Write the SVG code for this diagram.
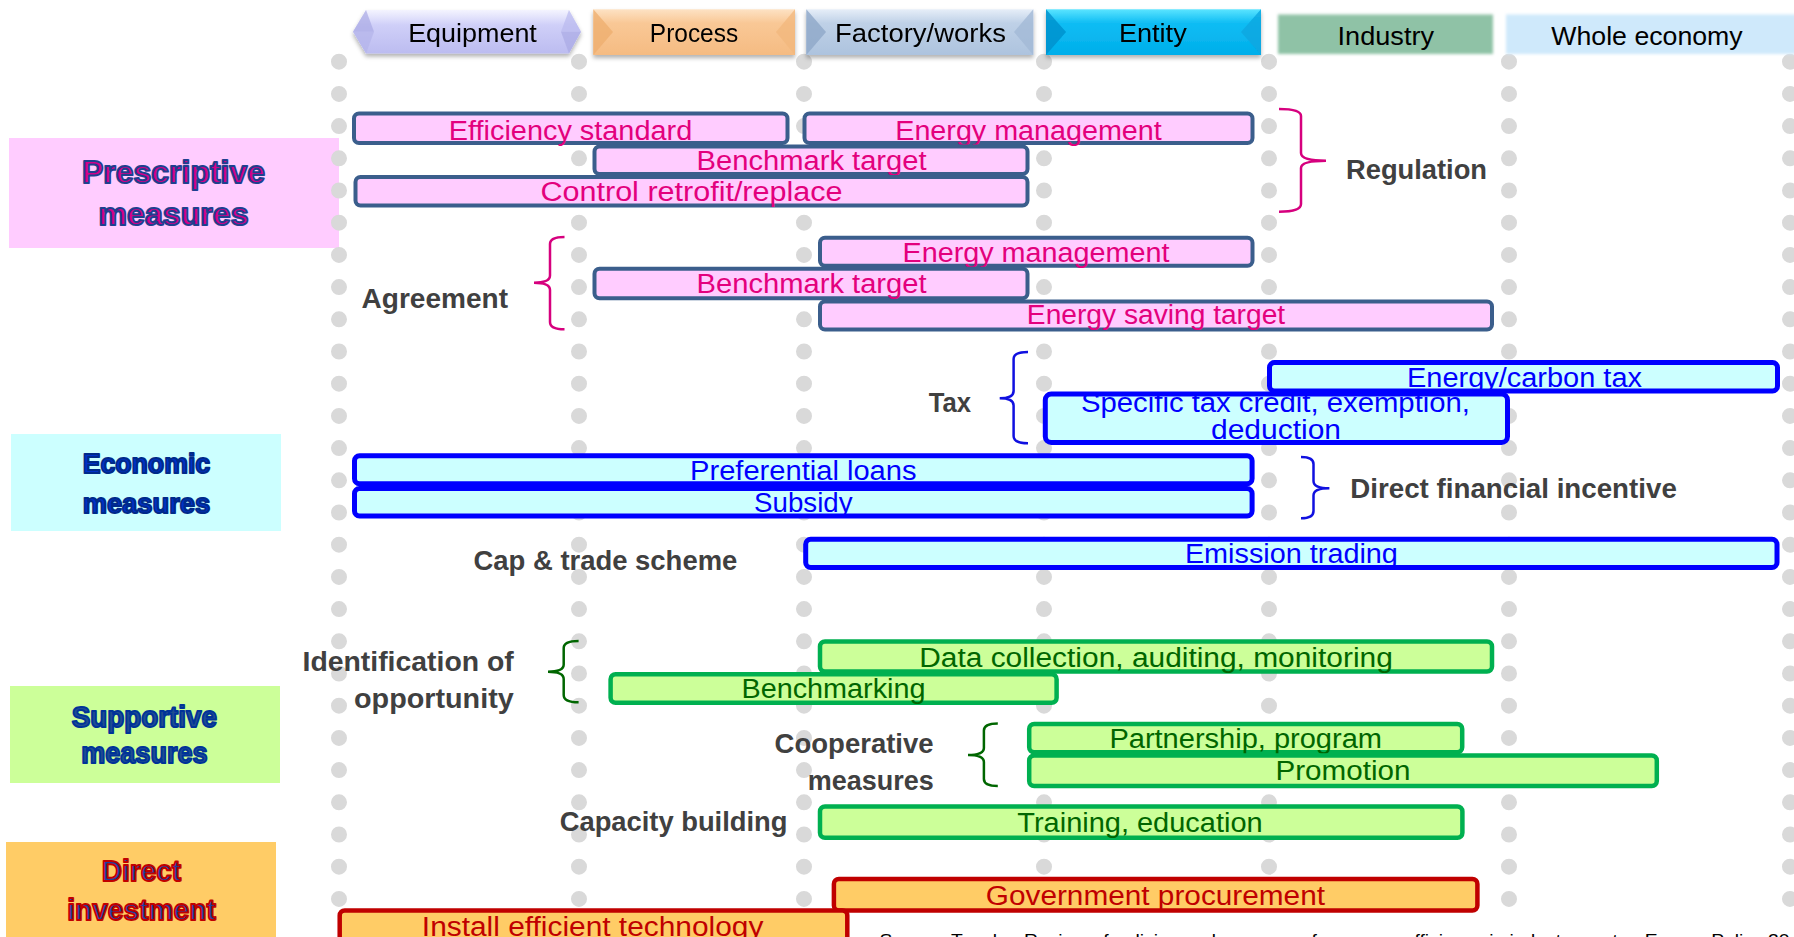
<svg xmlns="http://www.w3.org/2000/svg" width="1794" height="937" viewBox="0 0 1794 937">
<defs>
<style>
.bp{fill:#ffccff;stroke:#3b5e8c;stroke-width:4}
.be{fill:#ccffff;stroke:#0000ff;stroke-width:5}
.bs{fill:#ccff99;stroke:#00b050;stroke-width:4.5}
.bd{fill:#ffcc66;stroke:#c00000;stroke-width:4.5}
.t{font-family:"Liberation Sans",Arial,sans-serif;font-size:27px;text-anchor:middle}
.tp{fill:#e3007d}.te{fill:#0000ff}.ts{fill:#006600}.td{fill:#c00000}
.lbl{font-family:"Liberation Sans",Arial,sans-serif;font-weight:bold;font-size:27px;fill:#404040}
.hdr{font-family:"Liberation Sans",Arial,sans-serif;font-size:25px;fill:#000;text-anchor:middle}
.cat{font-family:"Liberation Sans",Arial,sans-serif;font-weight:bold;text-anchor:middle;stroke-width:2;stroke-linejoin:round}
.dots{stroke:#d9d9d9;stroke-width:16;stroke-linecap:round;stroke-dasharray:0 32.2;fill:none}
.br{fill:none;stroke-width:2.5}
</style>
<filter id="sh" x="-5%" y="-20%" width="110%" height="150%"><feDropShadow dx="0" dy="3" stdDeviation="2" flood-color="#000" flood-opacity="0.3"/></filter>
<filter id="soft" x="-5%" y="-20%" width="110%" height="140%"><feGaussianBlur stdDeviation="1.6"/></filter>
<linearGradient id="gEq" x1="0" y1="0" x2="0" y2="1"><stop offset="0" stop-color="#f4f4ff"/><stop offset="0.35" stop-color="#cfcff8"/><stop offset="1" stop-color="#bcbcf0"/></linearGradient>
<linearGradient id="gPr" x1="0" y1="0" x2="0" y2="1"><stop offset="0" stop-color="#fde2c4"/><stop offset="0.3" stop-color="#f9c896"/><stop offset="1" stop-color="#f5bb82"/></linearGradient>
<linearGradient id="gFa" x1="0" y1="0" x2="0" y2="1"><stop offset="0" stop-color="#e6eef8"/><stop offset="0.3" stop-color="#bfd1e7"/><stop offset="1" stop-color="#adc3de"/></linearGradient>
<linearGradient id="gEn" x1="0" y1="0" x2="0" y2="1"><stop offset="0" stop-color="#5ae4ff"/><stop offset="0.3" stop-color="#10bdf4"/><stop offset="1" stop-color="#00aeea"/></linearGradient>
</defs>
<rect width="1794" height="937" fill="#fff"/>

<g id="cat-prescriptive">
<rect x="9" y="138" width="330" height="110" fill="#ffccff"/>
<text class="cat" x="173.5" y="183" font-size="32" fill="#d4008a" stroke="#1f3f8f" textLength="183" lengthAdjust="spacingAndGlyphs">Prescriptive</text>
<text class="cat" x="173.5" y="225" font-size="32" fill="#d4008a" stroke="#1f3f8f" textLength="150" lengthAdjust="spacingAndGlyphs">measures</text>
</g>
<g id="cat-economic">
<rect x="11" y="434" width="270" height="97" fill="#ccffff"/>
<text class="cat" x="146.4" y="473.3" font-size="28" fill="#0030c8" stroke="#002a8a" textLength="127.5" lengthAdjust="spacingAndGlyphs">Economic</text>
<text class="cat" x="146.4" y="512.7" font-size="28" fill="#0030c8" stroke="#002a8a" textLength="127.5" lengthAdjust="spacingAndGlyphs">measures</text>
</g>
<g id="cat-supportive">
<rect x="10" y="686" width="270" height="97" fill="#ccff99"/>
<text class="cat" x="144.4" y="726.7" font-size="30" fill="#1f4e8f" stroke="#003399" textLength="145.3" lengthAdjust="spacingAndGlyphs">Supportive</text>
<text class="cat" x="144.4" y="763.3" font-size="30" fill="#1f4e8f" stroke="#003399" textLength="126.3" lengthAdjust="spacingAndGlyphs">measures</text>
</g>
<g id="cat-direct">
<rect x="6" y="842" width="270" height="95" fill="#ffcc66"/>
<text class="cat" x="141.5" y="881" font-size="30" fill="#1f3f9f" stroke="#c00000" stroke-width="1.2" textLength="79.4" lengthAdjust="spacingAndGlyphs">Direct</text>
<text class="cat" x="141.5" y="920" font-size="30" fill="#1f3f9f" stroke="#c00000" stroke-width="1.2" textLength="148.6" lengthAdjust="spacingAndGlyphs">investment</text>
</g>

<g id="gridlines">
<line class="dots" x1="339" y1="61.7" x2="339" y2="900"/>
<line class="dots" x1="579" y1="61.7" x2="579" y2="900"/>
<line class="dots" x1="804" y1="61.7" x2="804" y2="900"/>
<line class="dots" x1="1044" y1="61.7" x2="1044" y2="900"/>
<line class="dots" x1="1269" y1="61.7" x2="1269" y2="900"/>
<line class="dots" x1="1509" y1="61.7" x2="1509" y2="900"/>
<line class="dots" x1="1790" y1="61.7" x2="1790" y2="900"/>
</g>

<g id="headers">
<g id="hdr-equipment" filter="url(#sh)">
<polygon points="353,31.7 366,10 569,10 581,31.7 569,53.5 366,53.5" fill="url(#gEq)"/>
<polygon points="353,31.7 366,10 374,31.7" fill="#a9a9e4" opacity="0.7"/>
<polygon points="353,31.7 374,31.7 366,53.5" fill="#b3b3ea" opacity="0.7"/>
<polygon points="581,31.7 569,10 561,31.7" fill="#b9b9ee" opacity="0.7"/>
<polygon points="581,31.7 561,31.7 569,53.5" fill="#a9a9e4" opacity="0.7"/>
<text class="hdr" x="472.5" y="41.7" textLength="128.7" lengthAdjust="spacingAndGlyphs">Equipment</text>
</g>
<g id="hdr-process" filter="url(#sh)">
<rect x="593.3" y="9.3" width="201.7" height="45.7" fill="url(#gPr)"/>
<polygon points="593.3,9.3 613,32 593.3,55" fill="#eeae6e" opacity="0.75"/>
<polygon points="795,9.3 776,32 795,55" fill="#f2b77c" opacity="0.75"/>
<text class="hdr" x="694" y="41.7" textLength="88.3" lengthAdjust="spacingAndGlyphs">Process</text>
</g>
<g id="hdr-factory" filter="url(#sh)">
<rect x="806.3" y="9.3" width="227" height="45.7" fill="url(#gFa)"/>
<polygon points="806.3,9.3 826,32 806.3,55" fill="#8ea7c8" opacity="0.8"/>
<polygon points="1033.3,9.3 1014,32 1033.3,55" fill="#a3b9d6" opacity="0.8"/>
<text class="hdr" x="920.5" y="41.7" textLength="171" lengthAdjust="spacingAndGlyphs">Factory/works</text>
</g>
<g id="hdr-entity" filter="url(#sh)">
<rect x="1046" y="9.3" width="215" height="45.7" fill="url(#gEn)"/>
<polygon points="1046,9.3 1066,32 1046,55" fill="#0090cc" opacity="0.8"/>
<polygon points="1261,9.3 1241,32 1261,55" fill="#0aa6e0" opacity="0.8"/>
<text class="hdr" x="1152.8" y="41.7" textLength="67.8" lengthAdjust="spacingAndGlyphs">Entity</text>
</g>
<g id="hdr-industry">
<rect x="1278" y="14.5" width="215" height="39.5" fill="#8fc2a6" filter="url(#soft)"/>
<text class="hdr" x="1385.8" y="45" textLength="96.4" lengthAdjust="spacingAndGlyphs">Industry</text>
</g>
<g id="hdr-economy">
<rect x="1506" y="14.5" width="292" height="39.5" fill="#cfe9fb" filter="url(#soft)"/>
<text class="hdr" x="1647" y="45" textLength="191.4" lengthAdjust="spacingAndGlyphs">Whole economy</text>
</g>
</g>

<g id="labels">
<text id="lbl-regulation" class="lbl" x="1346" y="179" textLength="141" lengthAdjust="spacingAndGlyphs">Regulation</text>
<text id="lbl-agreement" class="lbl" x="361.6" y="308" textLength="146.4" lengthAdjust="spacingAndGlyphs">Agreement</text>
<text id="lbl-tax" class="lbl" x="928.7" y="411.7" textLength="42.3" lengthAdjust="spacingAndGlyphs">Tax</text>
<text id="lbl-dfi" class="lbl" x="1350.3" y="498.3" textLength="326.5" lengthAdjust="spacingAndGlyphs">Direct financial incentive</text>
<text id="lbl-cap" class="lbl" x="473.5" y="570" textLength="263.8" lengthAdjust="spacingAndGlyphs">Cap &amp; trade scheme</text>
<g id="lbl-identification">
<text class="lbl" x="302.5" y="670.7" textLength="211.2" lengthAdjust="spacingAndGlyphs">Identification of</text>
<text class="lbl" x="354" y="708.3" textLength="159.7" lengthAdjust="spacingAndGlyphs">opportunity</text>
</g>
<g id="lbl-cooperative">
<text class="lbl" x="774.6" y="752.7" textLength="159" lengthAdjust="spacingAndGlyphs">Cooperative</text>
<text class="lbl" x="807.7" y="790" textLength="126" lengthAdjust="spacingAndGlyphs">measures</text>
</g>
<text id="lbl-capacity" class="lbl" x="559.7" y="830.7" textLength="227.8" lengthAdjust="spacingAndGlyphs">Capacity building</text>
</g>

<g id="brackets">
<path class="br" stroke="#d6007e" d="M1279,109 Q1301,109 1301,116 L1301,153 Q1301,160.7 1326,160.7 Q1301,160.7 1301,168 L1301,204 Q1301,211.7 1279,211.7"/>
<path class="br" stroke="#d6007e" d="M564.5,237 Q550,237 550,244 L550,275.5 Q550,282.7 534,282.7 Q550,282.7 550,290 L550,322 Q550,329.3 564.5,329.3"/>
<path class="br" stroke="#1010e0" d="M1028,352 Q1013.6,352 1013.6,359 L1013.6,391 Q1013.6,398.3 999.7,398.3 Q1013.6,398.3 1013.6,405.5 L1013.6,436 Q1013.6,443.3 1028,443.3"/>
<path class="br" stroke="#1010e0" d="M1301,457 Q1313.5,457 1313.5,464 L1313.5,481 Q1313.5,488.3 1329.4,488.3 Q1313.5,488.3 1313.5,495.5 L1313.5,511 Q1313.5,518.3 1301,518.3"/>
<path class="br" stroke="#006600" d="M578.6,641 Q563.7,641 563.7,648 L563.7,664.5 Q563.7,671.7 548,671.7 Q563.7,671.7 563.7,679 L563.7,695 Q563.7,702.3 578.6,702.3"/>
<path class="br" stroke="#006600" d="M997.8,723.5 Q983.9,723.5 983.9,730.5 L983.9,748 Q983.9,755 968,755 Q983.9,755 983.9,762 L983.9,779 Q983.9,786 997.8,786"/>
</g>

<g id="bar-efficiency-standard"><rect class="bp" x="354" y="113.5" width="433.5" height="29.5" rx="5"/><text class="t tp" x="570.5" y="140" textLength="243.5" lengthAdjust="spacingAndGlyphs">Efficiency standard</text></g>
<g id="bar-energy-management-reg"><rect class="bp" x="804.5" y="113.5" width="448" height="29.5" rx="5"/><text class="t tp" x="1028.5" y="139.5" textLength="266.5" lengthAdjust="spacingAndGlyphs">Energy management</text></g>
<g id="bar-benchmark-target-reg"><rect class="bp" x="594.5" y="146.5" width="433" height="27.5" rx="5"/><text class="t tp" x="811.6" y="169.5" textLength="230" lengthAdjust="spacingAndGlyphs">Benchmark target</text></g>
<g id="bar-control-retrofit"><rect class="bp" x="355.5" y="177" width="672" height="28.5" rx="5"/><text class="t tp" x="691.5" y="200.5" textLength="302" lengthAdjust="spacingAndGlyphs">Control retrofit/replace</text></g>

<g id="bar-energy-management-agr"><rect class="bp" x="820" y="237.7" width="432.5" height="28" rx="5"/><text class="t tp" x="1036" y="262" textLength="267" lengthAdjust="spacingAndGlyphs">Energy management</text></g>
<g id="bar-benchmark-target-agr"><rect class="bp" x="594.5" y="268.7" width="433" height="29.5" rx="5"/><text class="t tp" x="811.6" y="292.5" textLength="230" lengthAdjust="spacingAndGlyphs">Benchmark target</text></g>
<g id="bar-energy-saving-target"><rect class="bp" x="820" y="301.5" width="672" height="28" rx="5"/><text class="t tp" x="1156" y="323.5" textLength="258.3" lengthAdjust="spacingAndGlyphs">Energy saving target</text></g>

<g id="bar-energy-carbon-tax"><rect class="be" x="1269.5" y="362.5" width="508" height="28.5" rx="5"/><text class="t te" x="1524.5" y="386.5" textLength="235" lengthAdjust="spacingAndGlyphs">Energy/carbon tax</text></g>
<g id="bar-specific-tax"><rect class="be" x="1045.3" y="394" width="462.2" height="48.5" rx="6"/><text class="t te" x="1275.5" y="412" textLength="389" lengthAdjust="spacingAndGlyphs">Specific tax credit, exemption,</text><text class="t te" x="1276" y="439.3" textLength="130" lengthAdjust="spacingAndGlyphs">deduction</text></g>

<g id="bar-preferential-loans"><rect class="be" x="354.5" y="455.8" width="897.6" height="28" rx="5"/><text class="t te" x="803.3" y="480" textLength="226.5" lengthAdjust="spacingAndGlyphs">Preferential loans</text></g>
<g id="bar-subsidy"><rect class="be" x="354.5" y="488.5" width="897.6" height="27.5" rx="5"/><text class="t te" x="803.3" y="512" textLength="98.4" lengthAdjust="spacingAndGlyphs">Subsidy</text></g>
<g id="bar-emission-trading"><rect class="be" x="805.7" y="539.2" width="971.3" height="28.3" rx="5"/><text class="t te" x="1291.4" y="563.3" textLength="213" lengthAdjust="spacingAndGlyphs">Emission trading</text></g>

<g id="bar-data-collection"><rect class="bs" x="820" y="641.5" width="672" height="30" rx="5"/><text class="t ts" x="1156" y="666.7" textLength="473.6" lengthAdjust="spacingAndGlyphs">Data collection, auditing, monitoring</text></g>
<g id="bar-benchmarking"><rect class="bs" x="610.6" y="674.2" width="446" height="28.6" rx="5"/><text class="t ts" x="833.5" y="698.3" textLength="184" lengthAdjust="spacingAndGlyphs">Benchmarking</text></g>
<g id="bar-partnership"><rect class="bs" x="1029.2" y="723.9" width="433" height="28.4" rx="5"/><text class="t ts" x="1245.7" y="748.3" textLength="272.6" lengthAdjust="spacingAndGlyphs">Partnership, program</text></g>
<g id="bar-promotion"><rect class="bs" x="1029.2" y="755.5" width="627.6" height="30.6" rx="5"/><text class="t ts" x="1343" y="780" textLength="135" lengthAdjust="spacingAndGlyphs">Promotion</text></g>
<g id="bar-training"><rect class="bs" x="820" y="806.5" width="642.4" height="31.3" rx="5"/><text class="t ts" x="1140" y="831.7" textLength="245.3" lengthAdjust="spacingAndGlyphs">Training, education</text></g>

<g id="bar-government-procurement"><rect class="bd" x="833.9" y="878.9" width="643.5" height="31.6" rx="5"/><text class="t td" x="1155.4" y="905" textLength="339.2" lengthAdjust="spacingAndGlyphs">Government procurement</text></g>
<g id="bar-install-technology"><rect class="bd" x="339.7" y="910.5" width="507.6" height="45" rx="5"/><text class="t td" x="592.6" y="936" textLength="341.5" lengthAdjust="spacingAndGlyphs">Install efficient technology</text></g>

<text id="source" x="879.5" y="946" font-family="'Liberation Sans',Arial,sans-serif" font-size="17" fill="#000" textLength="910" lengthAdjust="spacingAndGlyphs">Source: Tanaka, Review of policies and measures for energy efficiency in industry sector, Energy Policy 20</text>
</svg>
